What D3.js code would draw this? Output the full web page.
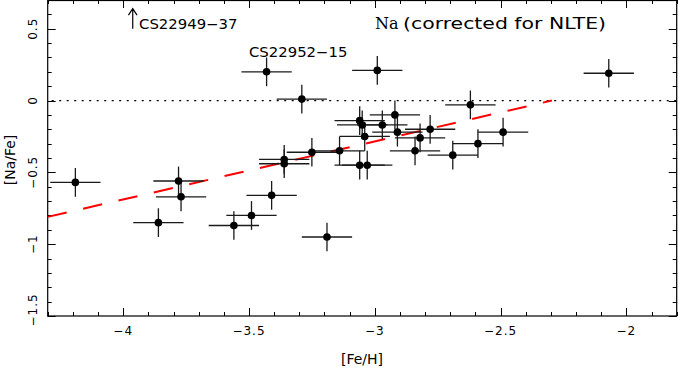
<!DOCTYPE html>
<html>
<head>
<meta charset="utf-8">
<script src="https://cdn.jsdelivr.net/npm/d3@7"></script>
<style>
  body { margin: 0; background: #fff; }
  svg { display: block; }
  text { font-family: "DejaVu Sans", sans-serif; fill: #000; }
</style>
</head>
<body>
<script>
// [Fe/H] and [Na/Fe]
var feh  = [-4.19, -3.86, -3.78, -3.77, -3.56, -3.49, -3.41, -3.43, -3.36, -3.36,
            -3.29, -3.25, -3.19, -3.14, -3.06, -3.05, -3.04, -3.06, -3.03, -2.99,
            -2.97, -2.92, -2.91, -2.84, -2.82, -2.78, -2.69, -2.62, -2.59, -2.49, -2.07];
var nafe = [-0.57, -0.85, -0.56, -0.67, -0.87, -0.80, -0.66, 0.20, -0.41, -0.44,
             0.01, -0.36, -0.95, -0.35, -0.14, -0.17, -0.25, -0.45, -0.45, 0.21,
            -0.17, -0.10, -0.22, -0.35, -0.26, -0.20, -0.38, -0.03, -0.30, -0.22, 0.19];
var xErr = 0.1, yErr = 0.1;

// fitted trend (red dashed)
var fitX = [-4.3, -2.296];
var fitY = [-0.81, 0.0];

// star labels
var labelNames = ["CS22949\u221237", "CS22952\u221215"];
var labelX = [-3.937, -3.50];
var labelY = [0.50, 0.30];
// arrow for the star off the top of the plot
var arrowX = -3.962, arrowY = [0.50, 0.64];

var xTicks = [-4, -3.5, -3, -2.5, -2];
var yTicks = [0.5, 0, -0.5, -1, -1.5];

var width = 679, height = 371;
var plotLeft = 47.7, plotRight = 676.7, plotTop = 0, plotBottom = 316;

var svg = d3.select("body").append("svg")
    .attr("width", width)
    .attr("height", height);

var x = d3.scaleLinear().domain([-4.3, -1.8]).range([plotLeft, plotRight]);
var y = d3.scaleLinear().domain([-1.5, 0.7]).range([plotBottom, plotTop]);

function fmt(v) { return d3.format("")(v).replace("-", "\u2212"); }

// inward ticks on all four sides
var xMinor = d3.range(-43, -17).map(function(i) { return i / 10; });
var yMinor = d3.range(-15, 8).map(function(i) { return i / 10; });

function isMajor(v) { return Math.abs(v * 2 - Math.round(v * 2)) < 1e-6; }

var tickG = svg.append("g").attr("stroke", "#000").attr("stroke-width", 1);
xMinor.forEach(function(v) {
    var len = isMajor(v) ? 8 : 4;
    var px = Math.round(x(v)) + 0.5;
    tickG.append("line").attr("x1", px).attr("x2", px).attr("y1", plotBottom).attr("y2", plotBottom - len);
    tickG.append("line").attr("x1", px).attr("x2", px).attr("y1", plotTop).attr("y2", plotTop + len);
});
yMinor.forEach(function(v) {
    var len = isMajor(v) ? 8 : 4;
    var py = Math.round(y(v)) + 0.5;
    tickG.append("line").attr("y1", py).attr("y2", py).attr("x1", plotLeft).attr("x2", plotLeft + len);
    tickG.append("line").attr("y1", py).attr("y2", py).attr("x1", plotRight).attr("x2", plotRight - len);
});

svg.append("rect")
    .attr("x", plotLeft).attr("y", plotTop + 0.5)
    .attr("width", plotRight - plotLeft).attr("height", plotBottom - plotTop - 0.5)
    .attr("fill", "none").attr("stroke", "#000").attr("stroke-width", 1.2);

// tick labels
svg.append("g").selectAll("text")
    .data(xTicks).enter().append("text")
    .attr("x", function(d) { return x(d); })
    .attr("y", 335)
    .attr("text-anchor", "middle")
    .style("font-size", "12px")
    .style("letter-spacing", "1px")
    .text(fmt);

svg.append("g").selectAll("text")
    .data(yTicks).enter().append("text")
    .attr("transform", function(d) {
        var py = d === -1.5 ? plotBottom - 6 : y(d);
        return "translate(36.7," + py + ") rotate(-90)";
    })
    .attr("text-anchor", "middle")
    .style("font-size", "12px")
    .style("letter-spacing", "1px")
    .text(fmt);

// axis titles
svg.append("text")
    .attr("x", 362).attr("y", 364)
    .attr("text-anchor", "middle")
    .style("font-size", "14px")
    .text("[Fe/H]");

svg.append("text")
    .attr("transform", "translate(15,160) rotate(-90)")
    .attr("text-anchor", "middle")
    .style("font-size", "14px")
    .text("[Na/Fe]");

// zero line
svg.append("line")
    .attr("x1", plotLeft + 4).attr("x2", plotRight)
    .attr("y1", y(0)).attr("y2", y(0))
    .attr("stroke", "#000").attr("stroke-width", 1.3)
    .attr("stroke-dasharray", "2,5.5");

// red fit
var fitData = fitX.map(function(v, i) { return [v, fitY[i]]; });
svg.append("path")
    .datum(fitData)
    .attr("d", d3.line().x(function(d) { return x(d[0]); }).y(function(d) { return y(d[1]); }))
    .attr("fill", "none")
    .attr("stroke", "#f00")
    .attr("stroke-width", 2)
    .attr("stroke-dasharray", "19.5,16.8");

// points with error bars
var pts = feh.map(function(v, i) { return {x: v, y: nafe[i]}; });

var errG = svg.append("g").attr("stroke", "#1a1a1a").attr("stroke-width", 1.3);
pts.forEach(function(d) {
    errG.append("line")
        .attr("x1", x(d.x - xErr)).attr("x2", x(d.x + xErr))
        .attr("y1", y(d.y)).attr("y2", y(d.y));
    errG.append("line")
        .attr("x1", x(d.x)).attr("x2", x(d.x))
        .attr("y1", y(d.y - yErr)).attr("y2", y(d.y + yErr));
});

svg.append("g").selectAll("circle")
    .data(pts).enter().append("circle")
    .attr("cx", function(d) { return x(d.x); })
    .attr("cy", function(d) { return y(d.y); })
    .attr("r", 3.8)
    .attr("fill", "#000");

// arrow
var ax = x(arrowX), ay0 = y(arrowY[0]), ay1 = y(arrowY[1]);
svg.append("path")
    .attr("d", "M" + ax + "," + ay0 + "V" + ay1 +
               "M" + (ax - 4.3) + "," + (ay1 + 6.5) + "L" + ax + "," + ay1 + "L" + (ax + 4.3) + "," + (ay1 + 6.5))
    .attr("fill", "none").attr("stroke", "#000").attr("stroke-width", 1.2);

// star labels
svg.append("g").selectAll("text")
    .data(labelNames).enter().append("text")
    .attr("x", function(d, i) { return x(labelX[i]); })
    .attr("y", function(d, i) { return y(labelY[i]); })
    .attr("textLength", 98.5)
    .attr("lengthAdjust", "spacingAndGlyphs")
    .style("font-size", "14px")
    .text(function(d) { return d; });

// title
svg.append("text")
    .attr("x", 375).attr("y", 29)
    .style("font-family", "'DejaVu Serif', serif")
    .style("font-size", "16px")
    .text("Na");
svg.append("text")
    .attr("x", 403).attr("y", 29)
    .attr("textLength", 203)
    .attr("lengthAdjust", "spacingAndGlyphs")
    .style("font-size", "16px")
    .text("(corrected for NLTE)");
</script>
</body>
</html>
